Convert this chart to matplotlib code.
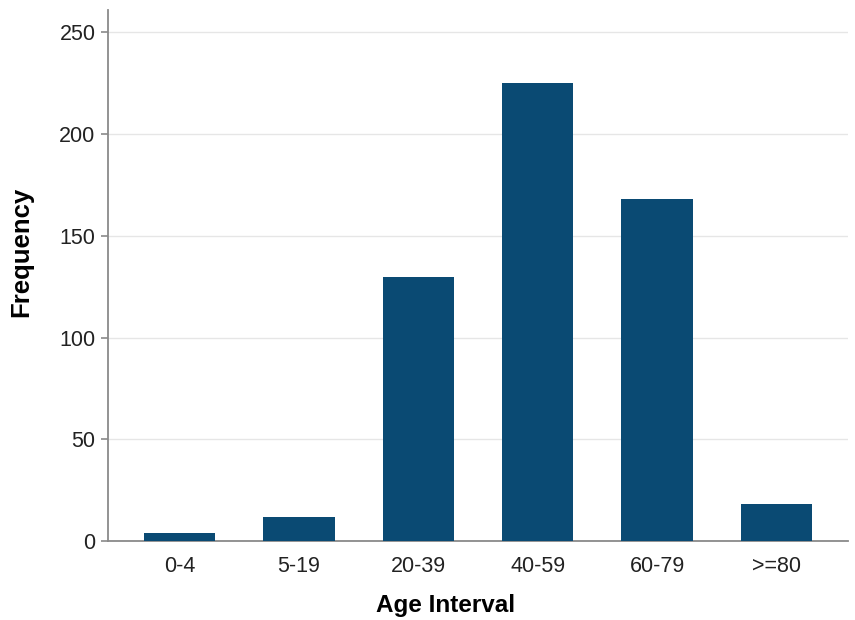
import matplotlib
matplotlib.use("Agg")
import matplotlib.pyplot as plt
import numpy as np

# data
age_intervals = ["0-4", "5-19", "20-39", "40-59", "60-79", ">=80"]
frequency = [4, 12, 130, 225, 168, 18]
y_ticks = [0, 50, 100, 150, 200, 250]

plt.rcParams["font.family"] = ["Liberation Sans", "DejaVu Sans"]

fig = plt.figure(figsize=(8.55, 6.2), dpi=100)
ax = fig.add_axes([0.1263, 0.1274, 0.8655, 0.8565])

x = np.arange(len(age_intervals))
ax.bar(x, frequency, width=0.6, color="#0a4a73", zorder=3)

ax.set_xlim(-0.6, len(age_intervals) - 0.4)
ax.set_ylim(0, 261)
ax.set_yticks(y_ticks)
ax.set_xticks(x)
ax.set_xticklabels(age_intervals)

ax.grid(True, axis="y", color="#e6e6e6", linewidth=1.0, zorder=0)
for side in ("top", "right"):
    ax.spines[side].set_visible(False)
for side in ("left", "bottom"):
    ax.spines[side].set_color("#8a8a8a")
    ax.spines[side].set_linewidth(1.3)

ax.tick_params(axis="y", length=5, width=1.2, color="#8a8a8a",
               labelsize=15.5, labelcolor="#222222", pad=4)
ax.tick_params(axis="x", length=0, labelsize=15.5, labelcolor="#222222", pad=11)

ax.set_xlabel("Age Interval", fontsize=17.5, fontweight="bold")
ax.set_ylabel("Frequency", fontsize=18.5, fontweight="bold")
ax.xaxis.set_label_coords(0.456, -0.100)
ax.yaxis.set_label_coords(-0.101, 0.544)

fig.savefig("out.png", dpi=100)
plt.close(fig)
